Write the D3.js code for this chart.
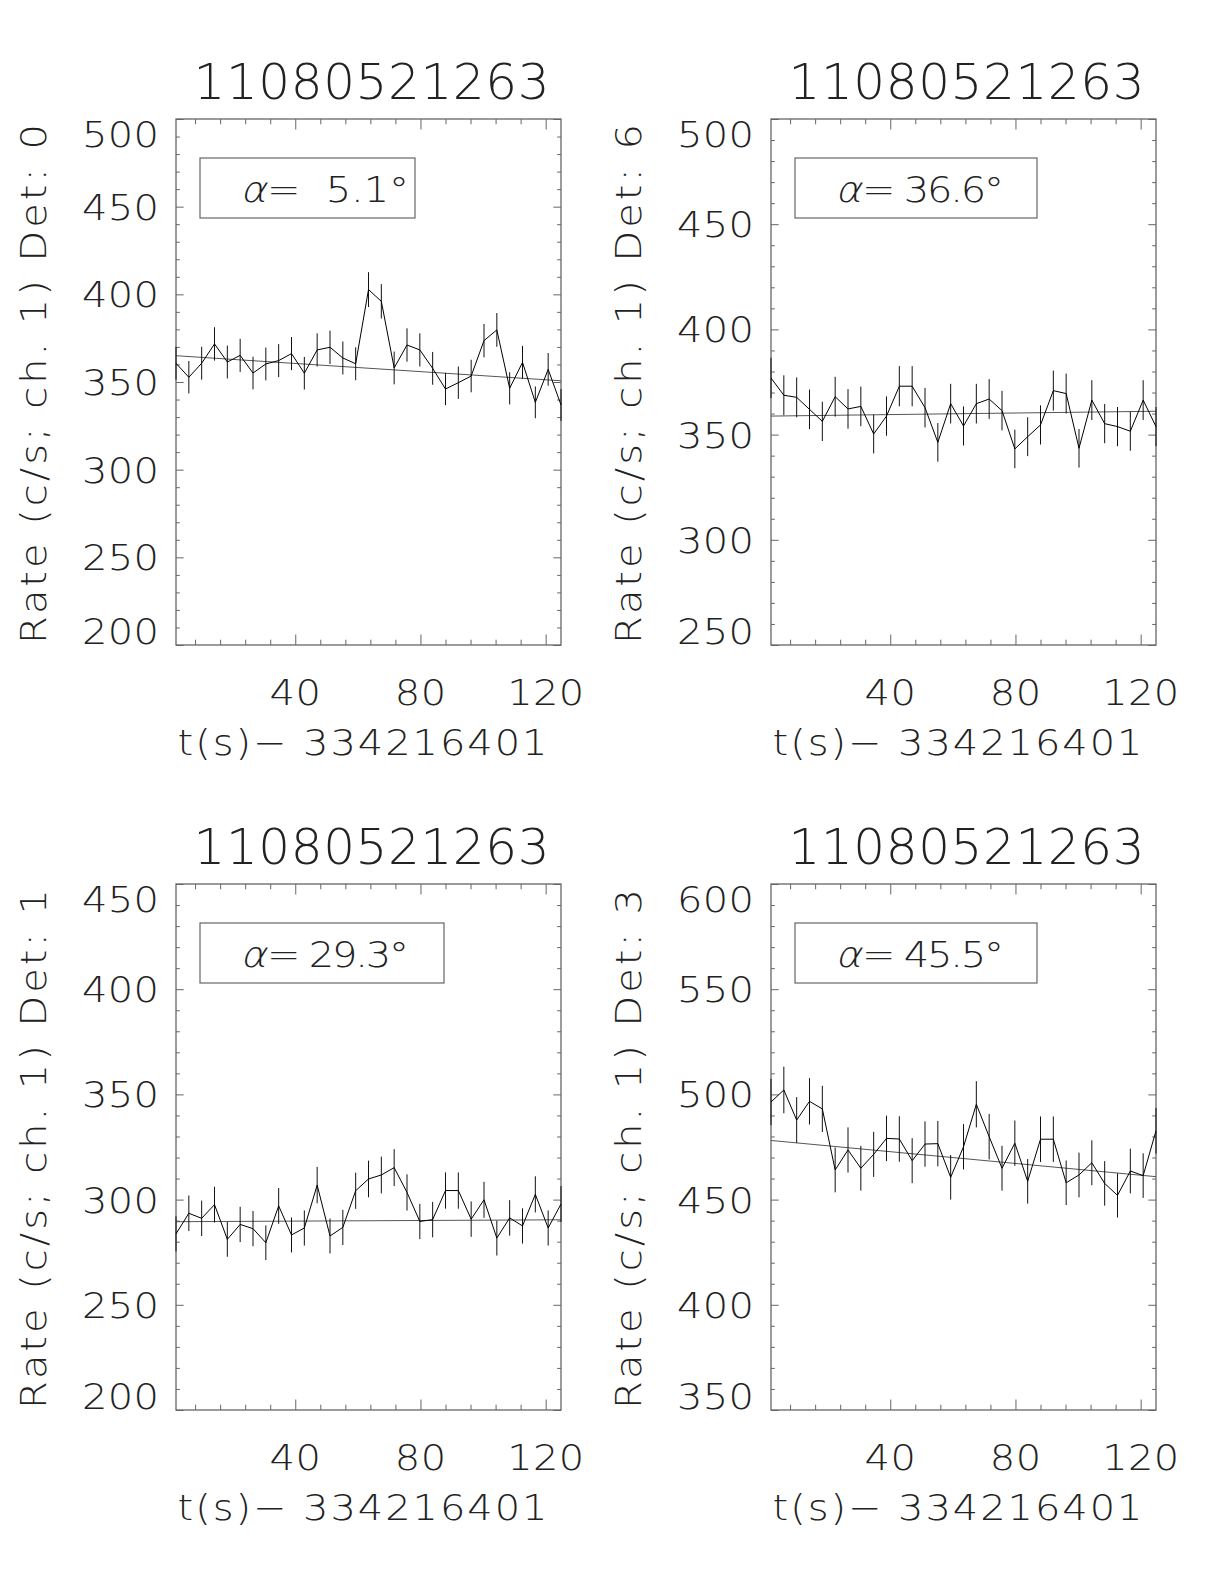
<!DOCTYPE html>
<html><head><meta charset="utf-8">
<script src="https://cdn.jsdelivr.net/npm/d3@7"></script>
<style>
body{margin:0;background:#fff}
svg{display:block}
text{font-family:"DejaVu Sans",sans-serif;font-weight:200;fill:#222}
</style>
</head><body>
<svg id="c" width="1224" height="1584"></svg>
<script>
// ---------------- data ----------------
const burstTitle = "11080521263";
const xAxisTitle = "t(s)\u2212 334216401";
const binWidth = 4.1; // s, used for Poisson error bars
const times = [1.9, 6.0, 10.1, 14.2, 18.3, 22.4, 26.5, 30.6, 34.7, 38.8, 42.9, 47.0, 51.1, 55.2, 59.3,
  63.4, 67.5, 71.6, 75.7, 79.8, 83.9, 88.0, 92.1, 96.2, 100.3, 104.4, 108.5, 112.6, 116.7, 120.8, 124.9];
const xMajorTicks = [40, 80, 120];
const xMinorTicks = [8, 16, 24, 32, 48, 56, 64, 72, 88, 96, 104, 112];

const det0Rates = [360.7, 352.7, 360.7, 371.7, 361.4, 365.2, 355.1, 360.3, 362.2, 366.2, 355.0, 368.3, 369.8, 363.7, 360.4,
  402.7, 396.0, 358.0, 371.1, 368.3, 357.8, 346.0, 349.6, 353.4, 373.6, 379.7, 346.4, 361.2, 338.4, 357.2, 336.9];
const det6Rates = [376.9, 368.7, 367.7, 362.0, 356.3, 368.0, 362.2, 363.4, 350.3, 358.8, 373.0, 373.0, 362.8, 346.3, 364.7,
  354.1, 364.7, 366.9, 361.4, 343.2, 349.0, 354.6, 370.9, 369.5, 343.5, 366.4, 355.2, 353.8, 351.6, 366.4, 353.8];
const det1Rates = [283.7, 293.5, 291.1, 297.6, 281.1, 288.2, 286.2, 279.5, 297.0, 283.2, 286.5, 306.9, 282.7, 286.8, 304.2,
  309.8, 311.7, 315.2, 303.4, 289.6, 290.5, 304.3, 304.3, 290.7, 299.9, 281.7, 291.3, 287.5, 302.5, 286.5, 297.9];
const det3Rates = [496.4, 502.1, 487.8, 496.7, 493.1, 464.1, 473.6, 464.9, 471.5, 479.1, 478.8, 468.5, 476.4, 476.6, 460.6,
  475.1, 495.3, 479.9, 464.9, 476.8, 458.7, 478.7, 478.7, 458.0, 461.7, 467.5, 457.7, 452.0, 463.6, 461.4, 482.7];

// fitted background line: rate at first and last time bin
const det0Fit = [365.0, 350.7];
const det6Fit = [358.8, 361.1];
const det1Fit = [289.5, 290.4];
const det3Fit = [478.1, 460.9];

const det0YTicks = [200, 250, 300, 350, 400, 450, 500];
const det6YTicks = [250, 300, 350, 400, 450, 500];
const det1YTicks = [200, 250, 300, 350, 400, 450];
const det3YTicks = [350, 400, 450, 500, 550, 600];

const detNames = ["0", "6", "1", "3"];
const alphaValues = ["\u00a05.1", "36.6", "29.3", "45.5"];

// ---------------- layout ----------------
const W = 385, H = 526;
const panels = [
  {left:176, top:119, det:detNames[0], rates:det0Rates, fit:det0Fit, ticks:det0YTicks, alpha:alphaValues[0], boxW:215},
  {left:771, top:119, det:detNames[1], rates:det6Rates, fit:det6Fit, ticks:det6YTicks, alpha:alphaValues[1], boxW:242},
  {left:176, top:884, det:detNames[2], rates:det1Rates, fit:det1Fit, ticks:det1YTicks, alpha:alphaValues[2], boxW:244},
  {left:771, top:884, det:detNames[3], rates:det3Rates, fit:det3Fit, ticks:det3YTicks, alpha:alphaValues[3], boxW:242}
];

const svg = d3.select("#c");
const CAP = 0.729;
const FS = 35.7;                   // tick-label font
const TFS = 50;                    // title font
const SX = 1.12;                   // slight horizontal widening (Hershey-like glyphs)
const frameColor = "#666";

function addText(parent, x, y, str, size, len, anchor, extra, sx){
  const s = sx || SX;
  const tg = parent.append("g")
    .attr("transform", `translate(${x},${y})` + (extra || "") + ` scale(${s},1)`);
  const t = tg.append("text").attr("x", 0).attr("y", 0)
    .attr("text-anchor", anchor).attr("font-size", size);
  if (len) t.attr("textLength", len / s).attr("lengthAdjust", "spacing");
  if (str !== null) t.text(str);
  return t;
}

function drawPanel(p){
  const g = svg.append("g").attr("transform", `translate(${p.left},${p.top})`);
  const x = d3.scaleLinear().domain([times[0], times[times.length-1]]).range([0, W]);
  const yd = d3.extent(p.ticks);
  const y = d3.scaleLinear().domain(yd).range([H, 0]);
  const yMinor = d3.range(yd[0], yd[1] + 0.001, 10).filter(v => !p.ticks.includes(v));

  const styleAxis = sel => {
    sel.select(".domain").remove();
    sel.selectAll("line").attr("stroke", frameColor).attr("stroke-width", 1);
    sel.selectAll("text").remove();
  };
  g.append("g").attr("transform", `translate(0,${H})`)
    .call(d3.axisBottom(x).tickValues(xMajorTicks).tickSize(-10.5).tickFormat("")).call(styleAxis);
  g.append("g").attr("transform", `translate(0,${H})`)
    .call(d3.axisBottom(x).tickValues(xMinorTicks).tickSize(-5.3).tickFormat("")).call(styleAxis);
  g.append("g")
    .call(d3.axisTop(x).tickValues(xMajorTicks).tickSize(-10.5).tickFormat("")).call(styleAxis);
  g.append("g")
    .call(d3.axisTop(x).tickValues(xMinorTicks).tickSize(-5.3).tickFormat("")).call(styleAxis);
  g.append("g").call(d3.axisLeft(y).tickValues(p.ticks).tickSize(-7.7).tickFormat("")).call(styleAxis);
  g.append("g").call(d3.axisLeft(y).tickValues(yMinor).tickSize(-3.85).tickFormat("")).call(styleAxis);
  g.append("g").attr("transform", `translate(${W},0)`)
    .call(d3.axisRight(y).tickValues(p.ticks).tickSize(-7.7).tickFormat("")).call(styleAxis);
  g.append("g").attr("transform", `translate(${W},0)`)
    .call(d3.axisRight(y).tickValues(yMinor).tickSize(-3.85).tickFormat("")).call(styleAxis);

  g.append("rect").attr("x", 0).attr("y", 0).attr("width", W).attr("height", H)
    .attr("fill", "none").attr("stroke", frameColor).attr("stroke-width", 1.3);

  const half = FS * CAP / 2;
  p.ticks.forEach(d => {
    addText(g, -17, Math.min(H - 14, Math.max(14.5, y(d))) + half, String(d), FS, 77, "end");
  });
  xMajorTicks.forEach(d => {
    addText(g, x(d), H + 47 + half, String(d), FS, String(d).length * 25.7, "middle");
  });

  addText(g, W / 2 + 3, -38 + TFS * CAP / 2, burstTitle, TFS, 356, "middle", "", 1.0);
  addText(g, W / 2 - 6, H + 97 + half, xAxisTitle, FS, 370, "middle");
  addText(g, -143 + half, H / 2 + 2, `Rate (c/s; ch. 1) Det: ${p.det}`, FS, 520, "middle", " rotate(-90)");

  g.append("rect").attr("x", 24).attr("y", 39).attr("width", p.boxW).attr("height", 60)
    .attr("fill", "none").attr("stroke", frameColor).attr("stroke-width", 1.2);
  addText(g, 64, 70 + half, "\u03b1", FS, null, "start", " skewX(-14)");
  addText(g, 91, 70 + half, `= ${p.alpha}\u00b0`, FS, 142, "start");

  g.append("line")
    .attr("x1", x(times[0])).attr("x2", x(times[times.length - 1]))
    .attr("y1", y(p.fit[0])).attr("y2", y(p.fit[1]))
    .attr("stroke", "#555").attr("stroke-width", 1);

  g.selectAll(".err").data(p.rates).enter().append("line")
    .attr("x1", (d, i) => x(times[i])).attr("x2", (d, i) => x(times[i]))
    .attr("y1", d => y(d + Math.sqrt(d * binWidth) / binWidth))
    .attr("y2", d => y(d - Math.sqrt(d * binWidth) / binWidth))
    .attr("stroke", "#111").attr("stroke-width", 1);

  g.append("path").datum(p.rates)
    .attr("d", d3.line().x((d, i) => x(times[i])).y(d => y(d)))
    .attr("fill", "none").attr("stroke", "#000").attr("stroke-width", 1);
}
panels.forEach(drawPanel);
</script>
</body></html>
